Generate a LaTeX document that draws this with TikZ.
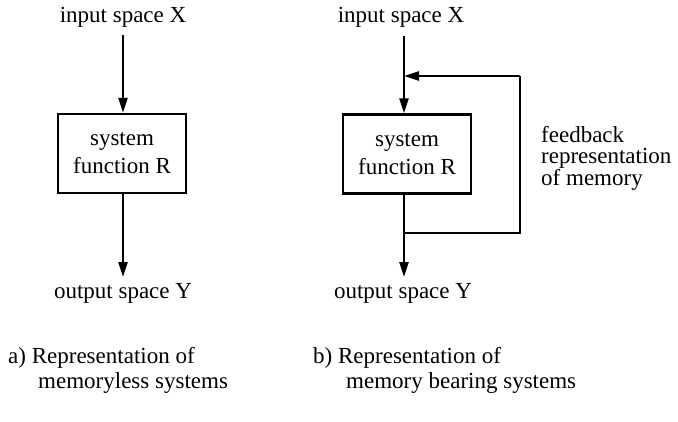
\documentclass[tikz,border=0pt]{standalone}
\usepackage{fontspec}
\setmainfont{Liberation Serif}
\usetikzlibrary{arrows.meta}
\begin{document}
\begin{tikzpicture}[x=1pt,y=-1pt,
  lbl/.style={inner sep=0pt,font=\fontsize{23}{24}\selectfont},
  sysbox/.style={draw,line width=2.4pt,minimum width=128pt,minimum height=79pt,
    inner sep=0pt,align=center,font=\fontsize{23}{28}\selectfont},
  flow/.style={line width=2.4pt,-{Triangle[length=15pt,width=9pt]}},
  wire/.style={line width=2.4pt}]
\useasboundingbox (0,0) rectangle (678,421);

% a) memoryless system
\node[lbl] (inA) at (123,17) {input space X};
\node[sysbox] (boxA) at (122,153.5) {system\\function R};
\node[lbl] (outA) at (123,293) {output space Y};
\coordinate (topA) at (123,35);
\coordinate (endA) at (123,277);
\draw[flow] (topA) -- (topA |- boxA.north);
\draw[flow] (topA |- boxA.south) -- (endA);

% b) memory bearing system
\node[lbl] (inB) at (401,17) {input space X};
\node[sysbox] (boxB) at (407,154) {system\\function R};
\node[lbl] (outB) at (403,293) {output space Y};
\coordinate (topB) at (404,36);
\coordinate (endB) at (404,277);
\coordinate (join) at (404,76);
\coordinate (split) at (404,233);
\coordinate (cornT) at (520,76);
\coordinate (cornB) at (520,233);
\draw[flow] (topB) -- (topB |- boxB.north);
\draw[flow] (topB |- boxB.south) -- (endB);
\draw[wire] (split) -- (cornB) -- (cornT);
\draw[flow] (cornT) -- (join);
\node[lbl,anchor=north west,align=left,font=\fontsize{23}{21}\selectfont]
  (fb) at (541,126) {feedback\\representation\\of memory};

% captions
\node[lbl,anchor=base west] (capA1) at (8,363) {a) Representation of};
\node[lbl,anchor=base west] (capA2) at (38,388) {memoryless systems};
\node[lbl,anchor=base west] (capB1) at (313,363) {b) Representation of};
\node[lbl,anchor=base west] (capB2) at (346,388) {memory bearing systems};
\end{tikzpicture}
\end{document}
